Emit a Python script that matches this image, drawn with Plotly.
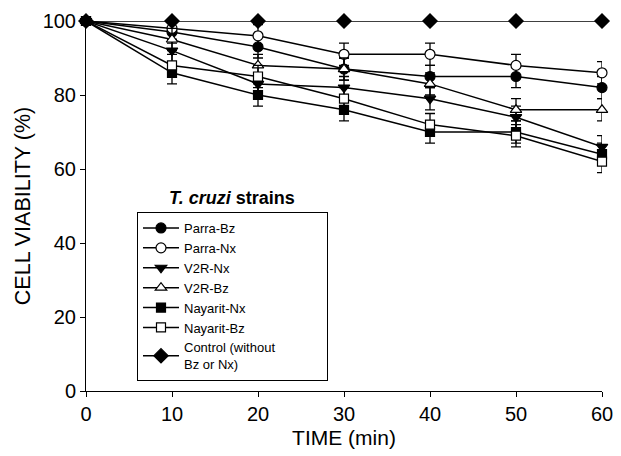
import plotly.graph_objects as go

time_min = [0, 10, 20, 30, 40, 50, 60]

parra_bz = [100, 97, 93, 87, 85, 85, 82]
parra_nx = [100, 98, 96, 91, 91, 88, 86]
v2r_nx = [100, 92, 83, 82, 79, 74, 66]
v2r_bz = [100, 95, 88, 87, 83, 76, 76]
nayarit_nx = [100, 86, 80, 76, 70, 70, 64]
nayarit_bz = [100, 88, 85, 79, 72, 69, 62]
control = [100, 100, 100, 100, 100, 100, 100]

err_parra_bz = [0, 3, 3, 3, 3, 3, 3]
err_parra_nx = [0, 3, 3, 3, 3, 3, 3]
err_v2r_nx = [0, 3, 3, 3, 3, 3, 3]
err_v2r_bz = [0, 3, 3, 3, 3, 3, 3]
err_nayarit_nx = [0, 3, 3, 3, 3, 3, 3]
err_nayarit_bz = [0, 3, 3, 3, 3, 3, 3]
err_control = [0, 0, 0, 0, 0, 0, 0]

NB = "\u00a0"
names = ["Parra-Bz", "Parra-Nx", "V2R-Nx", "V2R-Bz", "Nayarit-Nx", "Nayarit-Bz",
         "Control (without" + NB * 13 + "<br>Bz or Nx)"]
series = [parra_bz, parra_nx, v2r_nx, v2r_bz, nayarit_nx, nayarit_bz, control]
errors = [err_parra_bz, err_parra_nx, err_v2r_nx, err_v2r_bz, err_nayarit_nx,
          err_nayarit_bz, err_control]
symbols = ["circle", "circle", "triangle-down", "triangle-up", "square", "square", "diamond"]
fills = ["black", "white", "black", "white", "black", "white", "black"]
sizes = [10, 10, 10, 10, 9, 9, 11]

fig = go.Figure()
for name, ys, err, sym, fc, sz in zip(names, series, errors, symbols, fills, sizes):
    fig.add_trace(go.Scatter(
        x=time_min, y=ys, name=name, mode="lines+markers",
        line=dict(color="black", width=1.5),
        marker=dict(symbol=sym, size=sz, color=fc, line=dict(color="black", width=1.2)),
        error_y=dict(type="data", array=err, visible=True, color="black",
                     thickness=1.3, width=5),
        cliponaxis=False,
    ))

font = "Liberation Sans, Arial, sans-serif"
L, R, T, B = 86, 19, 21, 65
pw = 621 - L - R
ph = 456 - T - B

fig.update_layout(
    width=621, height=456,
    margin=dict(l=L, r=R, t=T, b=B, autoexpand=False),
    paper_bgcolor="white", plot_bgcolor="white",
    font=dict(family=font, color="black", size=20),
    showlegend=True,
    legend=dict(
        x=(137 - L) / pw, y=(456 - B - 212) / ph, xanchor="left", yanchor="top",
        bordercolor="black", borderwidth=1, bgcolor="white",
        font=dict(size=13, family=font), tracegroupgap=0,
        itemwidth=36,
    ),
    xaxis=dict(
        range=[0, 60], tickvals=[0, 10, 20, 30, 40, 50, 60],
        showline=True, linecolor="black", linewidth=1,
        ticks="outside", ticklen=5, tickcolor="black",
        showgrid=False, zeroline=False, automargin=False,
        title=dict(text="TIME (min)", font=dict(size=21), standoff=6),
        tickfont=dict(size=20),
    ),
    yaxis=dict(
        range=[0, 100], tickvals=[0, 20, 40, 60, 80, 100],
        showline=True, linecolor="black", linewidth=1,
        ticks="outside", ticklen=5, tickcolor="black",
        showgrid=False, zeroline=False, automargin=False,
        title=dict(text="CELL VIABILITY (%)", font=dict(size=21.5), standoff=6),
        tickfont=dict(size=20),
    ),
    annotations=[dict(
        text="<b><i>T. cruzi</i> strains</b>",
        x=(232 - L) / pw, y=(456 - B - 198) / ph,
        xref="paper", yref="paper", showarrow=False,
        xanchor="center", yanchor="middle",
        font=dict(size=18, family=font),
    )],
)

fig.write_html("out.html")
